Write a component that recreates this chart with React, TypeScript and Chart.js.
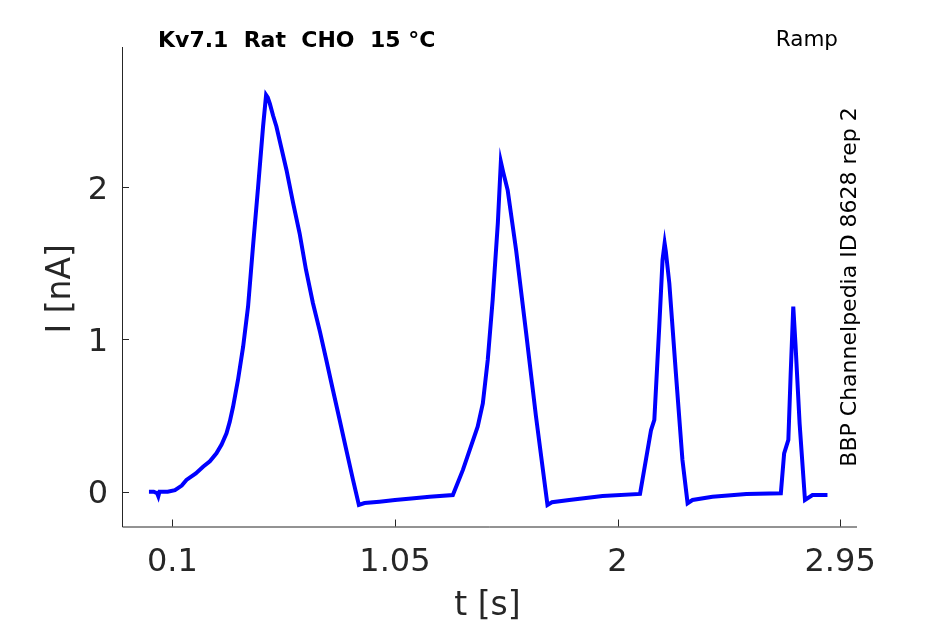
import { useEffect, useRef } from "react"
import { Chart, registerables } from "chart.js"

Chart.register(...registerables)

// ramp response trace
const timeS = [
  0.0, 0.02, 0.035, 0.04, 0.045, 0.08, 0.111, 0.14, 0.16, 0.2, 0.231, 0.26,
  0.288, 0.31, 0.331, 0.345, 0.359, 0.38, 0.402, 0.423, 0.444, 0.466, 0.487,
  0.5, 0.507, 0.516, 0.53, 0.544, 0.565, 0.587, 0.615, 0.643, 0.67, 0.7, 0.73,
  0.757, 0.785, 0.814, 0.843, 0.871, 0.896, 0.92, 0.984, 1.05, 1.12, 1.198,
  1.297, 1.34, 1.403, 1.425, 1.446, 1.467, 1.489, 1.502, 1.512, 1.531, 1.567,
  1.61, 1.652, 1.701, 1.72, 1.794, 1.936, 2.096, 2.143, 2.157, 2.178, 2.192,
  2.201, 2.206, 2.221, 2.249, 2.277, 2.299, 2.32, 2.405, 2.55, 2.697, 2.711,
  2.729, 2.739, 2.75, 2.76, 2.777, 2.8, 2.832, 2.896,
]
const currentNA = [
  0.0, 0.0, -0.01, -0.03, 0.0, 0.0, 0.01, 0.04, 0.077, 0.12, 0.164, 0.2,
  0.252, 0.31, 0.384, 0.46, 0.558, 0.734, 0.953, 1.216, 1.61, 2.004, 2.398,
  2.606, 2.59, 2.55, 2.47, 2.4, 2.26, 2.114, 1.9, 1.698, 1.46, 1.238, 1.05,
  0.865, 0.67, 0.471, 0.27, 0.077, -0.087, -0.075, -0.066, -0.055, -0.045,
  -0.033, -0.022, 0.143, 0.427, 0.58, 0.865, 1.26, 1.763, 2.168, 2.1, 1.982,
  1.588, 1.041, 0.493, -0.087, -0.07, -0.055, -0.028, -0.015, 0.405, 0.471,
  1.084, 1.522, 1.632, 1.58, 1.369, 0.778, 0.208, -0.076, -0.055, -0.033,
  -0.015, -0.01, 0.252, 0.34, 0.778, 1.216, 0.953, 0.449, -0.055, -0.022,
  -0.022,
]

const xTicks = [0.1, 1.05, 2, 2.95]
const yTicks = [0, 1, 2]

const titleText = "Kv7.1  Rat  CHO  15 °C"
const protocolText = "Ramp"
const sourceText = "BBP Channelpedia ID 8628 rep 2"

const AXIS = "#262626"
const FONT = "'DejaVu Sans', sans-serif"

const matlabAxes = {
  id: "matlabAxes",
  afterDraw(chart: any) {
    const { ctx, chartArea } = chart
    const { left, right, top, bottom } = chartArea
    const xs = chart.scales.x
    const ys = chart.scales.y
    ctx.save()
    ctx.strokeStyle = AXIS
    ctx.lineWidth = 1
    ctx.beginPath()
    ctx.moveTo(left + 0.5, top)
    ctx.lineTo(left + 0.5, bottom + 0.5)
    ctx.lineTo(right, bottom + 0.5)
    // inward ticks
    xTicks.forEach((v) => {
      const px = Math.round(xs.getPixelForValue(v)) + 0.5
      ctx.moveTo(px, bottom)
      ctx.lineTo(px, bottom - 7)
    })
    yTicks.forEach((v) => {
      const py = Math.round(ys.getPixelForValue(v)) + 0.5
      ctx.moveTo(left, py)
      ctx.lineTo(left + 7, py)
    })
    ctx.stroke()

    ctx.fillStyle = AXIS
    ctx.font = `33px ${FONT}`
    ctx.textAlign = "center"
    ctx.textBaseline = "alphabetic"
    ctx.fillText("t [s]", (left + right) / 2 - 2, 615)

    ctx.save()
    ctx.translate(70, (top + bottom) / 2 + 2)
    ctx.rotate(-Math.PI / 2)
    ctx.fillText("I [nA]", 0, 0)
    ctx.restore()

    ctx.fillStyle = "#000000"
    ctx.font = `bold 22px ${FONT}`
    ctx.textAlign = "left"
    ctx.fillText(titleText, 158, 47)

    ctx.font = `21.5px ${FONT}`
    ctx.textAlign = "right"
    ctx.fillText(protocolText, 838, 46)

    ctx.font = `22px ${FONT}`
    ctx.save()
    ctx.translate(856, 287)
    ctx.rotate(-Math.PI / 2)
    ctx.textAlign = "center"
    ctx.fillText(sourceText, 0, 0)
    ctx.restore()
    ctx.restore()
  },
}

export default function App() {
  const canvasRef = useRef<HTMLCanvasElement>(null)
  const chartRef = useRef<Chart | null>(null)

  useEffect(() => {
    if (!canvasRef.current) return
    const ctx = canvasRef.current.getContext("2d")
    if (!ctx) return
    if (chartRef.current) chartRef.current.destroy()

    chartRef.current = new Chart(ctx, {
      type: "line",
      data: {
        datasets: [
          {
            label: "I",
            data: timeS.map((t, i) => ({ x: t, y: currentNA[i] })),
            borderColor: "#0000ff",
            borderWidth: 4,
            pointRadius: 0,
            tension: 0,
            fill: false,
          },
        ],
      },
      options: {
        animation: false,
        responsive: false,
        devicePixelRatio: 1,
        layout: { padding: { left: 0, top: 47, right: 88, bottom: 0 } },
        plugins: {
          legend: { display: false },
          tooltip: { enabled: false },
        },
        scales: {
          x: {
            type: "linear",
            min: -0.115,
            max: 3.022,
            grid: { display: false, drawTicks: false },
            border: { display: false },
            afterBuildTicks: (s: any) => {
              s.ticks = xTicks.map((v) => ({ value: v }))
            },
            afterFit: (s: any) => {
              s.height = 97.5
            },
            ticks: {
              color: AXIS,
              padding: 17,
              maxRotation: 0,
              autoSkip: false,
              font: { family: FONT, size: 32 },
              callback: (v: any) => String(v),
            },
          },
          y: {
            type: "linear",
            min: -0.229,
            max: 2.922,
            grid: { display: false, drawTicks: false },
            border: { display: false },
            afterBuildTicks: (s: any) => {
              s.ticks = yTicks.map((v) => ({ value: v }))
            },
            afterFit: (s: any) => {
              s.width = 122
            },
            ticks: {
              color: AXIS,
              padding: 14,
              labelOffset: 3,
              font: { family: FONT, size: 32 },
              callback: (v: any) => String(v),
            },
          },
        },
      },
      plugins: [matlabAxes],
    })

    return () => {
      if (chartRef.current) {
        chartRef.current.destroy()
        chartRef.current = null
      }
    }
  }, [])

  return (
    <div
      style={{
        position: "absolute",
        left: 0,
        top: 0,
        width: 945,
        height: 624,
        background: "#ffffff",
      }}
    >
      <canvas ref={canvasRef} width={945} height={624} style={{ display: "block" }} />
    </div>
  )
}
